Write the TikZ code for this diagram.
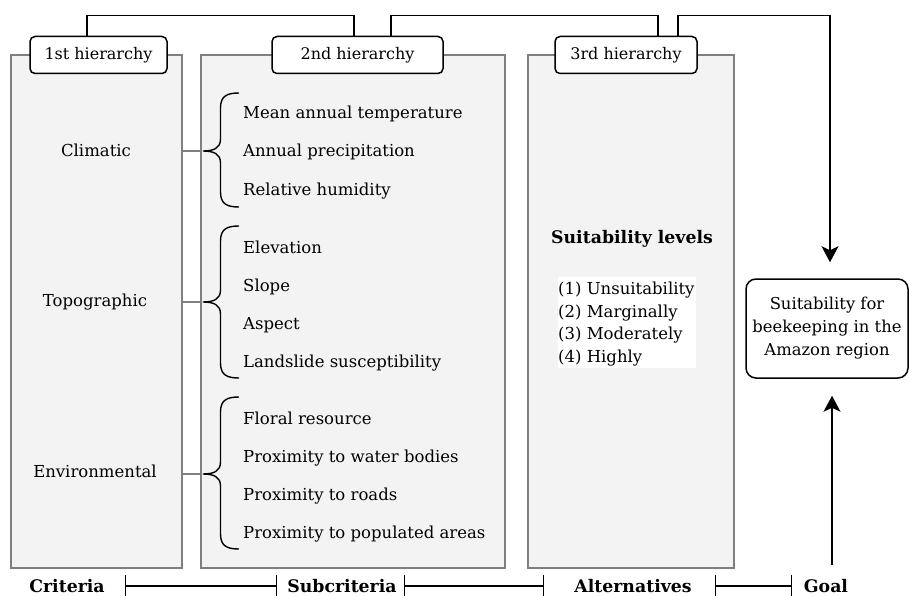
\documentclass[tikz,border=0pt]{standalone}
\usepackage{fontspec}
\setmainfont{DejaVu Serif}
\usetikzlibrary{arrows.meta,fit}
\definecolor{pfill}{HTML}{F3F3F3}
\definecolor{pline}{HTML}{7F7F7F}
\newcommand\cbrace[3]{%
  \draw[bracestyle] (239,#1) .. controls (227,#1) and (220.5,#1+3) .. (220.5,#1+15)
    -- (220.5,#2-12) .. controls (220.5,#2-3) and (214,#2) .. (203,#2)
    .. controls (214,#2) and (220.5,#2+3) .. (220.5,#2+12)
    -- (220.5,#3-15) .. controls (220.5,#3-3) and (227,#3) .. (239,#3);}
\begin{document}
\begin{tikzpicture}[x=1pt,y=-1pt,
  every node/.style={font=\fontsize{16.5}{20}\selectfont, inner sep=0pt},
  panel/.style={draw=pline, fill=pfill, line width=1.6pt, inner sep=0pt},
  hier/.style={draw=black, fill=white, line width=1.5pt, rounded corners=5pt, minimum height=37pt, font=\fontsize{16}{20}\selectfont},
  conn/.style={line width=1.5pt},
  link/.style={draw=pline, line width=1.6pt},
  bracestyle/.style={line width=1.4pt},
  arr/.style={line width=1.5pt, -{Stealth[length=16pt,width=17pt,inset=4pt]}},
  spanline/.style={line width=1.3pt, {Bar[width=22pt]}-{Bar[width=22pt]}},
  sub/.style={anchor=base west},
  crit/.style={anchor=base},
  lab/.style={anchor=base, font=\fontsize{17.3}{20}\selectfont\bfseries},
]
\useasboundingbox (0,0) rectangle (909,596);
\fill[white] (0,0) rectangle (909,596);

% panels
\node[panel, fit={(11,55)(182,568)}] (p1) {};
\node[panel, fit={(201,55)(505,568)}] (p2) {};
\node[panel, fit={(528,55)(734,568)}] (p3) {};

% hierarchy labels
\node[hier, minimum width=137pt] (h1) at (98.5,55) {1st hierarchy};
\node[hier, minimum width=171pt] (h2) at (357.5,55) {2nd hierarchy};
\node[hier, minimum width=142pt] (h3) at (626,55) {3rd hierarchy};

% goal
\node[draw, line width=1.5pt, rounded corners=10pt, fill=white,
      minimum width=162pt, minimum height=99pt, align=center,
      font=\fontsize{16.4}{23}\selectfont] (goal) at (827,328.5)
      {Suitability for\\beekeeping in the\\Amazon region};

% top connectors
\draw[conn] ([xshift=-11.5pt]h1.north) -- ++(0,-20) -| ([xshift=-3.5pt]h2.north);
\draw[conn] ([xshift=33.5pt]h2.north) -- ++(0,-20) -| ([xshift=32pt]h3.north);
\draw[arr, shorten >=16pt] ([xshift=52pt]h3.north) -- ++(0,-20) -| ([xshift=3pt]goal.north);
\coordinate (gfoot) at (832,565);
\draw[arr, shorten >=17pt] (gfoot) -- (gfoot |- goal.south);

% criteria
\node[crit] (c1) at (96,157) {Climatic};
\node[crit] (c2) at (95,306) {Topographic};
\node[crit] (c3) at (95,477) {Environmental};

% brace tips and links
\coordinate (t1) at (203,151);
\coordinate (t2) at (203,302);
\coordinate (t3) at (203,474);
\draw[link] (p1.east |- t1) -- (p2.west |- t1);
\draw[link] (p1.east |- t2) -- (p2.west |- t2);
\draw[link] (p1.east |- t3) -- (p2.west |- t3);
\cbrace{93}{151}{207}
\cbrace{226}{302}{378}
\cbrace{397}{474}{549}

% subcriteria
\node[sub] (s1) at (243,119) {Mean annual temperature};
\node[sub] (s2) at (243,157) {Annual precipitation};
\node[sub] (s3) at (243,195) {Relative humidity};
\node[sub] (s4) at (243,253) {Elevation};
\node[sub] (s5) at (243,291) {Slope};
\node[sub] (s6) at (243,329) {Aspect};
\node[sub] (s7) at (243,367) {Landslide susceptibility};
\node[sub] (s8) at (243,424) {Floral resource};
\node[sub] (s9) at (243,462) {Proximity to water bodies};
\node[sub] (s10) at (243,500) {Proximity to roads};
\node[sub] (s11) at (243,538) {Proximity to populated areas};

% alternatives
\node[lab] (suit) at (632,243) {Suitability levels};
\node[fill=white, minimum width=138pt, minimum height=91pt, anchor=north west] (lvbox) at (557.5,277) {};
\node[sub] (l1) at (558,294) {(1) Unsuitability};
\node[sub] (l2) at (558,317) {(2) Marginally};
\node[sub] (l3) at (558,339) {(3) Moderately};
\node[sub] (l4) at (558,362) {(4) Highly};

% bottom labels
\node[lab] (bc) at (67,592) {Criteria};
\node[lab] (bs) at (342,592) {Subcriteria};
\node[lab] (ba) at (633,592) {Alternatives};
\node[lab] (bg) at (826,592) {Goal};
\coordinate (a1) at (125,586); \coordinate (a2) at (277,586);
\coordinate (a3) at (404,586); \coordinate (a4) at (544,586);
\coordinate (a5) at (715,586); \coordinate (a6) at (792,586);
\draw[spanline] (a1) -- (a2);
\draw[spanline] (a3) -- (a4);
\draw[spanline] (a5) -- (a6);
\end{tikzpicture}
\end{document}
